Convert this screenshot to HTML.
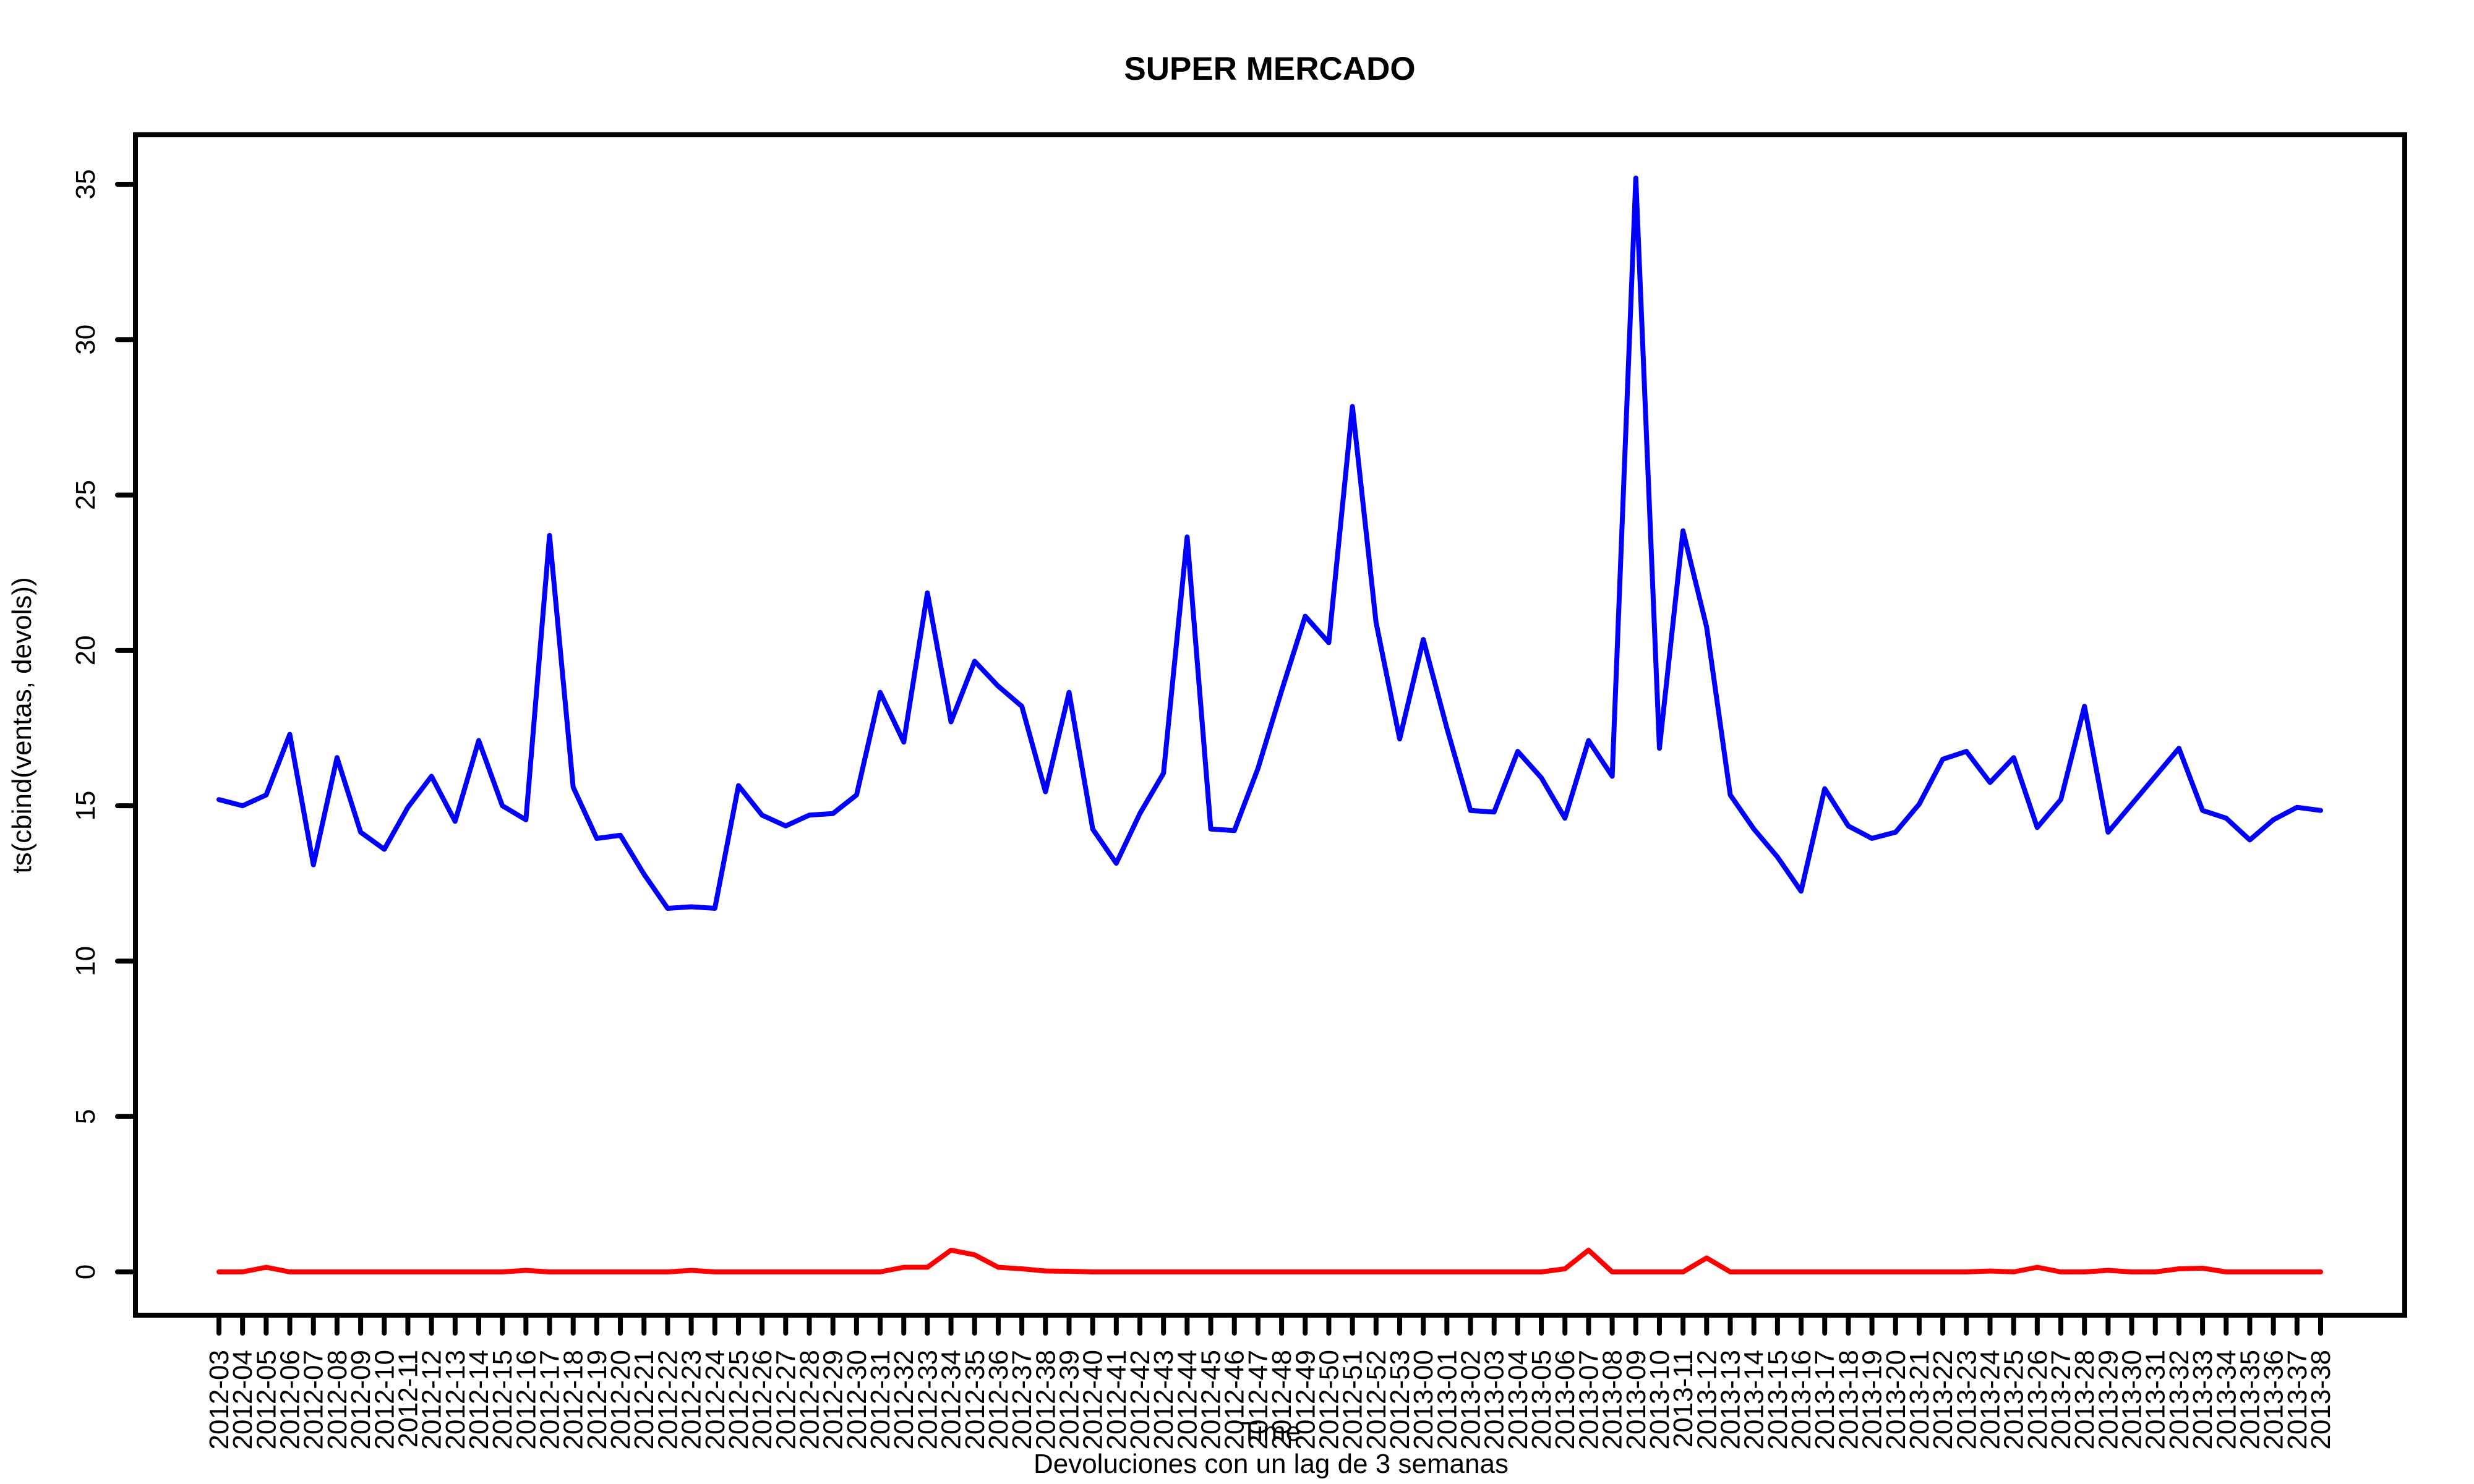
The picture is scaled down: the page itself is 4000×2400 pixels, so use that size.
<!DOCTYPE html>
<html><head><meta charset="utf-8"><style>
html,body{margin:0;padding:0;background:#fff}
svg{display:block}
text{font-family:"Liberation Sans",Arial,sans-serif;fill:#000}
</style></head><body>
<svg id="chart" width="4000" height="2400" viewBox="0 0 4000 2400" xmlns="http://www.w3.org/2000/svg">
<rect x="0" y="0" width="4000" height="2400" fill="#fff"/>
<text x="2053" y="129" font-size="53" font-weight="bold" text-anchor="middle">SUPER MERCADO</text>
<text transform="translate(50,1173) rotate(-90)" font-size="44" text-anchor="middle">ts(cbind(ventas, devols))</text>
<text x="2055" y="2330" font-size="44" text-anchor="middle">Time</text>
<text x="2055" y="2382" font-size="44" text-anchor="middle">Devoluciones con un lag de 3 semanas</text>
<g id="axes"></g>
<g id="series"></g>
<rect x="219" y="218" width="3669" height="1909" fill="none" stroke="#000" stroke-width="8"/>
</svg>
<script>
const weeks2012 = [3,4,5,6,7,8,9,10,11,12,13,14,15,16,17,18,19,20,21,22,23,24,25,26,27,28,29,30,31,32,33,34,35,36,37,38,39,40,41,42,43,44,45,46,47,48,49,50,51,52,53];
const weeks2013 = [0,1,2,3,4,5,6,7,8,9,10,11,12,13,14,15,16,17,18,19,20,21,22,23,24,25,26,27,28,29,30,31,32,33,34,35,36,37,38];
const ventas = [15.2,15.0,15.35,17.3,13.1,16.55,14.15,13.6,14.95,15.95,14.5,17.1,15.0,14.55,23.7,15.6,13.95,14.05,12.8,11.7,11.75,11.7,15.65,14.7,14.35,14.7,14.75,15.35,18.65,17.05,21.85,17.7,19.65,18.85,18.2,15.45,18.65,14.25,13.15,14.75,16.05,23.65,14.25,14.2,16.2,18.7,21.1,20.25,27.85,20.9,17.15,
20.35,17.5,14.85,14.8,16.75,15.9,14.6,17.1,15.95,35.2,16.85,23.85,20.75,15.35,14.25,13.35,12.25,15.55,14.35,13.95,14.15,15.05,16.5,16.75,15.75,16.55,14.3,15.2,18.2,14.15,15.05,15.95,16.85,14.85,14.6,13.9,14.55,14.95,14.85];
const devols = [0,0,0.15,0,0,0,0,0,0,0,0,0,0,0.05,0,0,0,0,0,0,0.05,0,0,0,0,0,0,0,0,0.15,0.15,0.7,0.55,0.15,0.1,0.03,0.02,0,0,0,0,0,0,0,0,0,0,0,0,0,0,
0,0,0,0,0,0,0.1,0.7,0,0,0,0,0.45,0,0,0,0,0,0,0,0,0,0,0,0.03,0,0.15,0,0,0.05,0,0,0.1,0.12,0,0,0,0,0];
const yTicks = [0,5,10,15,20,25,30,35];

const labels = weeks2012.map(w=>'2012-'+String(w).padStart(2,'0')).concat(weeks2013.map(w=>'2013-'+String(w).padStart(2,'0')));
const NS='http://www.w3.org/2000/svg';
const X0=354, X1=3752, Y0=2057, Y35=298;
function xs(i){return X0+(X1-X0)*i/(labels.length-1);}
function ys(v){return Y0+(Y35-Y0)*v/35;}
const axes=document.getElementById('axes');
const series=document.getElementById('series');
function mk(tag,attrs,parent){const e=document.createElementNS(NS,tag);for(const k in attrs)e.setAttribute(k,attrs[k]);parent.appendChild(e);return e;}
yTicks.forEach(v=>{
  const l=mk('line',{x1:219,x2:190,y1:ys(v),y2:ys(v),stroke:'#000','stroke-width':8,'stroke-linecap':'round'},axes);
  
  
  const t=mk('text',{transform:'translate(153,'+ys(v)+') rotate(-90)','font-size':44,'text-anchor':'middle'},axes);
  t.textContent=String(v);
  
  
});
labels.forEach((lab,i)=>{
  const x=xs(i);
  const l=mk('line',{x1:x,x2:x,y1:2127,y2:2156,stroke:'#000','stroke-width':8,'stroke-linecap':'round'},axes);
  
  
  const t=mk('text',{transform:'translate('+(x+15)+',2183) rotate(-90)','font-size':44,'text-anchor':'end'},axes);
  t.textContent=lab;
  
  
});
function line(arr,color,name){
  const d=arr.map((v,i)=>(i?'L':'M')+xs(i).toFixed(1)+','+ys(v).toFixed(1)).join('');
  const p=mk('path',{d:d,fill:'none',stroke:color,'stroke-width':8,'stroke-linejoin':'round','stroke-linecap':'round'},series);
  
  
}
line(ventas,'#0000ff','ventas-line');
line(devols,'#ff0000','devols-line');
</script>
</body></html>
